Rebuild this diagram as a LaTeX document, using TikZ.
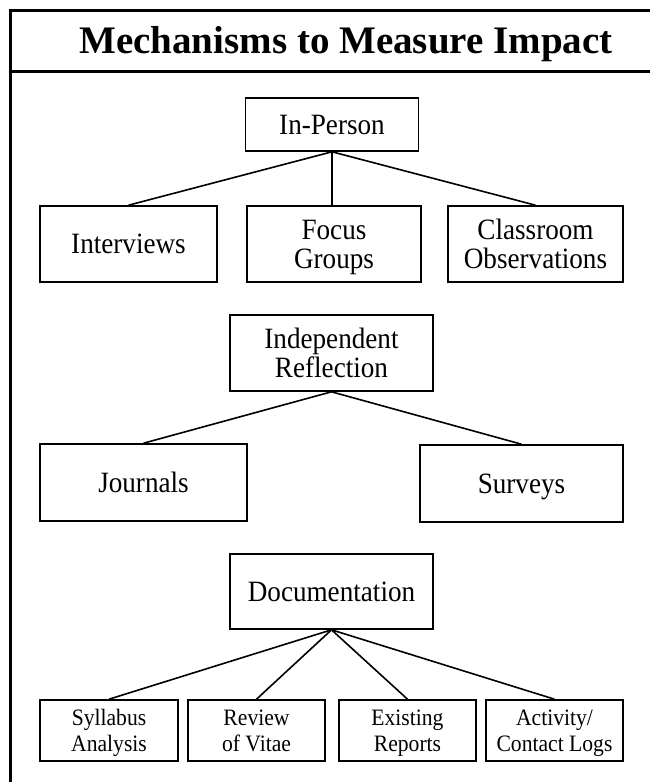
\documentclass[tikz,border=0pt]{standalone}
\usepackage{fontspec}
\setmainfont{Liberation Serif}[FakeStretch=0.92]
\newfontfamily\titlefont{Liberation Serif}[BoldFont={* Bold}]
\begin{document}
\begin{tikzpicture}[x=1pt,y=-1pt,
  box/.style={draw,line width=1.6pt,inner sep=0pt,align=center,
    font=\fontsize{29.5}{29}\selectfont,text height=19.5pt,text depth=0pt},
  twoline/.style={box,text height=48.5pt},
  smallbox/.style={box,font=\fontsize{23.5}{25.5}\selectfont,
    text height=41.1pt,text depth=0pt},
  link/.style={line width=1.6pt},
  frame/.style={line width=3pt}]
\useasboundingbox (0,0) rectangle (650,782);
% frame
\coordinate (ftl) at (10,10);
\coordinate (ftr) at (650,10);
\coordinate (fbl) at (10,782);
\coordinate (hl) at (10,71);
\coordinate (hr) at (650,71);
\draw[frame] (fbl) -- (ftl) -- (ftr);
\draw[frame] (hl) -- (hr);
\node[anchor=base,inner sep=0pt,font=\titlefont\bfseries\fontsize{39}{39}\selectfont] (title) at (346,53) {Mechanisms to Measure Impact};
% nodes
\node[box,minimum width=173pt,minimum height=53pt] (inp) at (332,124.5) {In-Person};
\node[box,minimum width=177pt,minimum height=76pt] (intv) at (128.5,244) {Interviews};
\node[twoline,minimum width=174pt,minimum height=76pt] (fg) at (334,244) {Focus\\Groups};
\node[twoline,minimum width=175pt,minimum height=76pt] (co) at (535.5,244) {Classroom\\Observations};
\node[twoline,minimum width=203pt,minimum height=76pt] (ir) at (331.5,353) {Independent\\Reflection};
\node[box,minimum width=207pt,minimum height=77pt] (jn) at (143.5,482.5) {Journals};
\node[box,minimum width=203pt,minimum height=77pt] (sv) at (521.5,483.5) {Surveys};
\node[box,minimum width=203pt,minimum height=75pt] (doc) at (331.5,591.5) {Documentation};
\node[smallbox,minimum width=138pt,minimum height=61pt] (syl) at (109,730.5) {Syllabus\\Analysis};
\node[smallbox,minimum width=137pt,minimum height=61pt] (rev) at (256.5,730.5) {Review\\of Vitae};
\node[smallbox,minimum width=137pt,minimum height=61pt] (ex) at (407.5,730.5) {Existing\\Reports};
\node[smallbox,minimum width=137pt,minimum height=61pt] (act) at (554.5,730.5) {Activity/\\Contact Logs};
% connectors
\draw[link] (inp.south) -- (intv.north);
\draw[link] (inp.south) -- (inp.south |- fg.north);
\draw[link] (inp.south) -- (co.north);
\draw[link] (ir.south) -- (jn.north);
\draw[link] (ir.south) -- (sv.north);
\draw[link] (doc.south) -- (syl.north);
\draw[link] (doc.south) -- (rev.north);
\draw[link] (doc.south) -- (ex.north);
\draw[link] (doc.south) -- (act.north);
\end{tikzpicture}
\end{document}
